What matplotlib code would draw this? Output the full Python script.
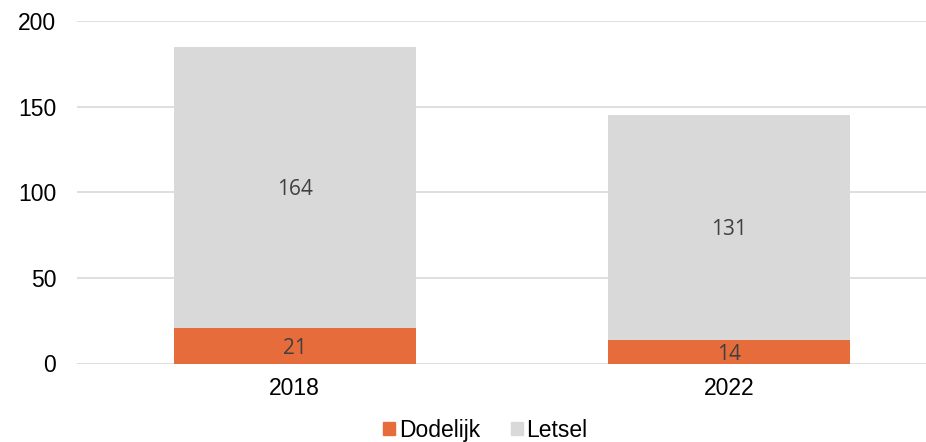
import matplotlib
matplotlib.use("Agg")
import matplotlib.pyplot as plt
from matplotlib.patches import Patch
import numpy as np

# ===== data =====
years = ["2018", "2022"]
dodelijk = [21, 14]
letsel = [164, 131]
series_names = ["Dodelijk", "Letsel"]
yticks = [0, 50, 100, 150, 200]

orange = "#E66C3C"
grey = "#D9D9D9"
label_color = "#404040"

plt.rcParams["font.family"] = ["Liberation Sans", "DejaVu Sans"]

fig = plt.figure(figsize=(9.26, 4.42), dpi=100)
ax = fig.add_axes([77 / 926, (442 - 363.5) / 442, 849 / 926, (363.5 - 21) / 442])

x = np.arange(len(years))
w = 0.557
b1 = ax.bar(x, dodelijk, width=w, color=orange, zorder=3)
b2 = ax.bar(x, letsel, width=w, bottom=dodelijk, color=grey, zorder=3)

for bars, vals, bottoms in [(b1, dodelijk, [0] * len(years)), (b2, letsel, dodelijk)]:
    for rect, v, bt in zip(bars, vals, bottoms):
        ax.text(rect.get_x() + rect.get_width() / 2, bt + v / 2, str(v),
                ha="center", va="center_baseline", fontsize=15, color=label_color,
                family=["Open Sans", "DejaVu Sans"], zorder=4)

ax.set_xlim(-0.5006, 1.4534)
ax.set_ylim(0, 200)
ax.set_yticks(yticks)
ax.set_xticks(x)
ax.set_xticklabels(years)
ax.tick_params(axis="both", length=0, labelsize=16.5, colors="black")
ax.tick_params(axis="y", pad=15)
ax.tick_params(axis="x", pad=10)
ax.yaxis.grid(True, color="#D9D9D9", linewidth=1.2, zorder=0)
for s in ax.spines.values():
    s.set_visible(False)

handles = [Patch(color=orange), Patch(color=grey)]
fig.legend(handles, series_names, loc="center", bbox_to_anchor=(0.524, 0.027),
           ncol=2, frameon=False, fontsize=16.5, handlelength=0.52, handleheight=0.55,
           handletextpad=0.15, columnspacing=1.35, borderpad=0)

fig.savefig("out.png", dpi=100)
